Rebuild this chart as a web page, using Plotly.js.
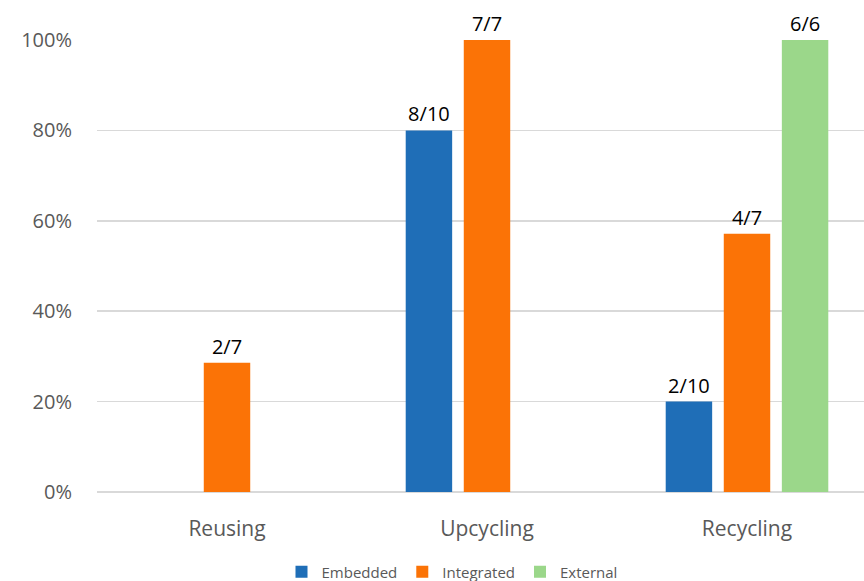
<!DOCTYPE html>
<html>
<head>
<meta charset="utf-8">
<script src="https://cdn.plot.ly/plotly-3.0.1.min.js"></script>
<style>
  html, body { margin: 0; padding: 0; background: #ffffff; }
  #chart { width: 864px; height: 581px; }
</style>
</head>
<body>
<div id="chart"></div>
<script>
// Share of cases per strategy, stated as "count / total" for each integration type
const categories = ['Reusing', 'Upcycling', 'Recycling'];

const embeddedCount = [null, 8, 2];
const embeddedTotal = [null, 10, 10];

const integratedCount = [2, 7, 4];
const integratedTotal = [7, 7, 7];

const externalCount = [null, null, 6];
const externalTotal = [null, null, 6];

const yTickValues = [0, 0.2, 0.4, 0.6, 0.8, 1.0];

const colors = { embedded: '#1f6eb7', integrated: '#fb7306', external: '#9bd78a' };

function shares(counts, totals) {
  return counts.map((c, i) => (c === null ? null : c / totals[i]));
}
function labels(counts, totals) {
  return counts.map((c, i) => (c === null ? '' : c + '/' + totals[i]));
}

function series(name, counts, totals, color) {
  return {
    type: 'bar',
    name: name,
    x: categories,
    y: shares(counts, totals),
    text: labels(counts, totals),
    textposition: 'outside',
    cliponaxis: false,
    textfont: { family: 'Open Sans, sans-serif', size: 20, color: '#000000' },
    marker: { color: color },
    hoverinfo: 'skip'
  };
}

const data = [
  series('Embedded', embeddedCount, embeddedTotal, colors.embedded),
  series('Integrated', integratedCount, integratedTotal, colors.integrated),
  series('External', externalCount, externalTotal, colors.external)
];

const layout = {
  width: 864,
  height: 581,
  margin: { l: 97, r: 0, t: 40, b: 89, autoexpand: false },
  paper_bgcolor: '#ffffff',
  plot_bgcolor: '#ffffff',
  barmode: 'group',
  bargap: 0.33,
  bargroupgap: 0.2,
  showlegend: true,
  legend: {
    orientation: 'h',
    xref: 'container',
    x: 452 / 864,
    xanchor: 'center',
    yref: 'container',
    y: 9 / 581,
    yanchor: 'middle',
    font: { family: 'Open Sans, sans-serif', size: 15, color: '#595959' },
    itemwidth: 30,
    tracegroupgap: 0
  },
  xaxis: {
    type: 'category',
    range: [-0.5, 2.45],
    showgrid: false,
    zeroline: false,
    showline: false,
    ticks: '',
    ticklabelstandoff: 22,
    tickfont: { family: 'Open Sans, sans-serif', size: 21, color: '#595959' },
    automargin: false,
    fixedrange: true
  },
  yaxis: {
    range: [0, 1],
    tickvals: yTickValues,
    tickformat: '.0%',
    showgrid: true,
    gridcolor: '#d9d9d9',
    gridwidth: 1.5,
    zeroline: true,
    zerolinecolor: '#d9d9d9',
    zerolinewidth: 1.5,
    showline: false,
    ticks: '',
    ticklabelstandoff: 24,
    tickfont: { family: 'Open Sans, sans-serif', size: 20, color: '#595959' },
    automargin: false,
    fixedrange: true
  },
  font: { family: 'Open Sans, sans-serif' }
};

Plotly.newPlot('chart', data, layout, { displayModeBar: false, staticPlot: true });
</script>
</body>
</html>
